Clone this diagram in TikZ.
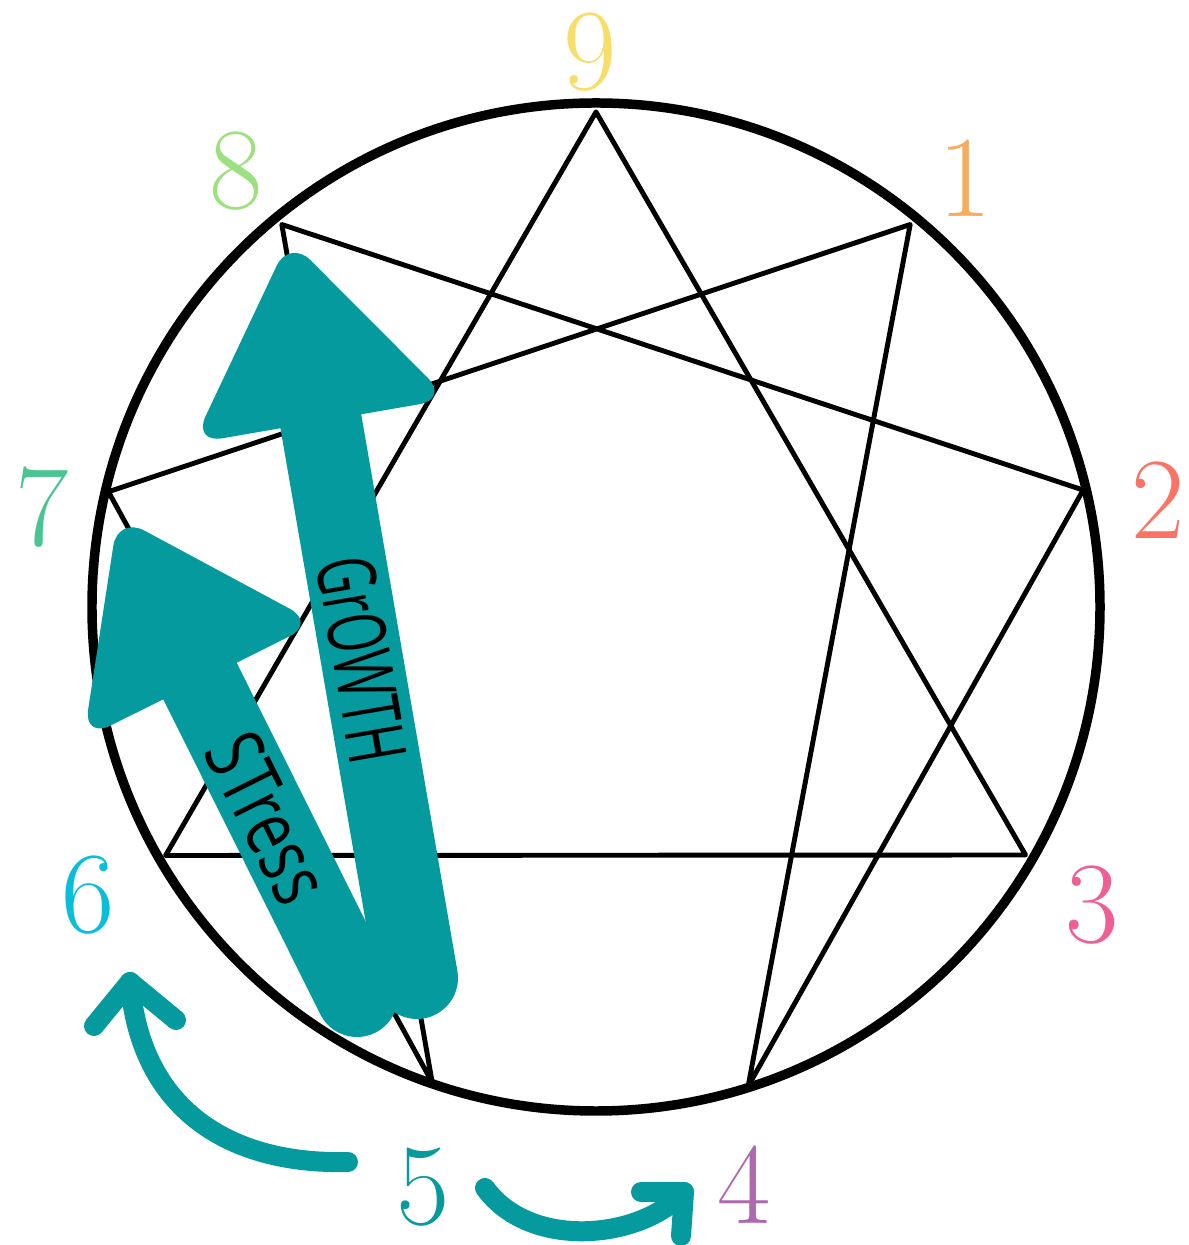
\documentclass[tikz,border=0pt]{standalone}
\usepackage{fontspec}
\newfontfamily\wordfont{Open Sans}

\definecolor{ennteal}{HTML}{059A9D}
\definecolor{ennone}{HTML}{F6AC60}
\definecolor{enntwo}{HTML}{FA7364}
\definecolor{ennthree}{HTML}{EF5F96}
\definecolor{ennfour}{HTML}{AD69AD}
\definecolor{ennfive}{HTML}{079A9D}
\definecolor{ennsix}{HTML}{0ABEDA}
\definecolor{ennseven}{HTML}{48C591}
\definecolor{enneight}{HTML}{9CE080}
\definecolor{ennnine}{HTML}{F9DD6B}

\begin{document}
\begin{tikzpicture}[
    digit/.style={inner sep=0pt, font=\fontsize{33}{38}\selectfont},
    chord/.style={line width=1.4pt, line join=round},
    shaft/.style={draw=ennteal, line width=0.82cm, line cap=round},
    head/.style={fill=ennteal, rounded corners=0.3cm},
    arrowword/.style={inner sep=0pt, font=\wordfont\fontsize{23}{26}\selectfont},
    swing/.style={draw=ennteal, line width=0.2cm, line cap=round, line join=round}
  ]
  \useasboundingbox (-5.96,-6.38) rectangle (5.92,6.07);

  % the nine points (hand placed, not quite regular)
  \foreach \n/\a/\r in {9/90/4.95, 1/50.6/4.95, 2/13.5/5.01, 3/-30/4.96,
                        4/-72.4/5.03, 5/-109/5.03, 6/-150/4.97,
                        7/166.7/5.01, 8/129.4/4.95}
    \coordinate (p\n) at (\a:\r);

  \draw[line width=2.7pt] (0,0) circle (5.04);
  \draw[chord] (p9) -- (p3) -- (p6) -- cycle;
  \draw[chord] (p1) -- (p4) -- (p2) -- (p8) -- (p5) -- (p7) -- cycle;

  % growth arrow
  \begin{scope}[shift={(-1.79,-3.71)}, rotate=9.8]
    \draw[shaft] (0,0) -- (0,5.75);
    \path[head] (-1.3,5.65) -- (0,7.5) -- (1.3,5.65) -- cycle;
    \node[arrowword, rotate=-80.2] (growth) at (0,3.23) {\scalebox{0.62}[1]{GrOWTH}};
  \end{scope}

  % stress arrow
  \begin{scope}[shift={(-2.39,-3.89)}, rotate=26.5]
    \draw[shaft] (0,0) -- (0,3.64);
    \path[head] (-1.3,3.52) -- (0,5.36) -- (1.3,3.52) -- cycle;
    \node[arrowword, rotate=-63.5] (stress) at (0,1.99) {\scalebox{0.74}[1]{STress}};
  \end{scope}

  \node[digit, ennnine]  (l9) at (-0.06,5.55) {9};
  \node[digit, ennone]   (l1) at (3.69,4.29) {1};
  \node[digit, enntwo]   (l2) at (5.62,1.07) {2};
  \node[digit, ennthree] (l3) at (4.96,-2.98) {3};
  \node[digit, ennfour]  (l4) at (1.48,-5.78) {4};
  \node[digit, ennfive]  (l5) at (-1.73,-5.80) {5};
  \node[digit, ennsix]   (l6) at (-5.08,-2.88) {6};
  \node[digit, ennseven] (l7) at (-5.54,1.00) {7};
  \node[digit, enneight] (l8) at (-3.60,4.36) {8};

  % little arrows from 5
  \coordinate (from6) at (-2.48,-5.55);
  \coordinate (to6) at (-4.66,-3.75);
  \coordinate (from4) at (-1.11,-5.81);
  \coordinate (to4) at (0.88,-5.85);
  \draw[swing] (from6) .. controls (-3.66,-5.58) and (-4.56,-5.03) .. (to6);
  \draw[swing] (-5.02,-4.19) -- (to6) -- (-4.20,-4.13);
  \draw[swing] (from4) .. controls (-0.66,-6.43) and (0.44,-6.33) .. (to4);
  \draw[swing] (0.45,-5.85) -- (to4) -- (0.85,-6.29);
\end{tikzpicture}
\end{document}
